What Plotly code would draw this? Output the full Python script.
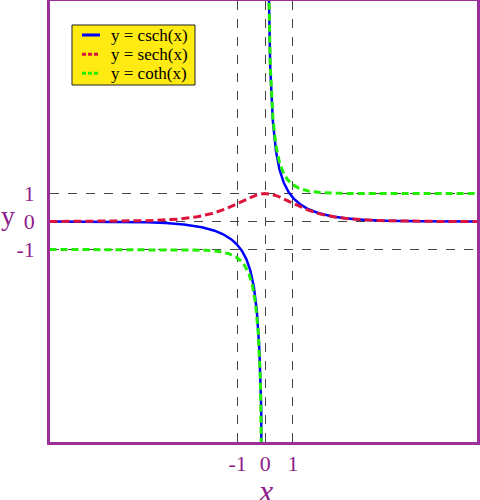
import numpy as np
import plotly.graph_objects as go

# x samples (two branches around the singularity at 0)
x_neg = np.linspace(-7.8, -0.02, 800)
x_pos = np.linspace(0.02, 7.7, 800)
x_all = np.linspace(-7.8, 7.7, 1200)

series_names = ["y = csch(x)", "y = sech(x)", "y = coth(x)"]
series_colors = ["#0000ff", "#dc143c", "#22ee00"]
series_dash = ["solid", "8px,4px", "7px,4px"]
legend_dash = ["solid", "4px,2px", "4px,2px"]
tick_vals = [-1, 0, 1]
tick_text = ["-1", "0", "1"]

def branches(f):
    xs = np.concatenate([x_neg, [np.nan], x_pos])
    ys = np.concatenate([f(x_neg), [np.nan], f(x_pos)])
    return xs, ys

csch_x, csch_y = branches(lambda x: 1 / np.sinh(x))
sech_x, sech_y = x_all, 1 / np.cosh(x_all)
coth_x, coth_y = branches(lambda x: 1 / np.tanh(x))

purple = "#8e1d8c"
fig = go.Figure()
fig.add_trace(go.Scatter(x=csch_x, y=csch_y, mode="lines", name=series_names[0],
                         line=dict(color=series_colors[0], width=2.5, dash=series_dash[0])))
fig.add_trace(go.Scatter(x=sech_x, y=sech_y, mode="lines", name=series_names[1],
                         line=dict(color=series_colors[1], width=3, dash=series_dash[1])))
fig.add_trace(go.Scatter(x=coth_x, y=coth_y, mode="lines", name=series_names[2],
                         line=dict(color=series_colors[2], width=3, dash=series_dash[2])))

axis_common = dict(
    tickvals=tick_vals, ticktext=tick_text, automargin=False,
    showgrid=True, gridcolor="#444444", gridwidth=1, griddash="dash",
    zeroline=False, showline=True, linecolor="#9b2f9b", linewidth=2.5, mirror=True,
    ticks="", tickfont=dict(family="Liberation Serif", size=22, color=purple),
)

# manual legend (compact rows like the reference)
shapes = [dict(type="rect", xref="paper", yref="paper", x0=0.0515, x1=0.3396, y0=0.8095, y1=0.9456,
               fillcolor="#ffea12", line=dict(color="#222222", width=1), layer="above")]
annotations = []
row_y = [0.9229, 0.8791, 0.836]
for name, color, dash, ry in zip(series_names, series_colors, legend_dash, row_y):
    shapes.append(dict(type="line", xref="paper", yref="paper", x0=0.0749, x1=0.1171, y0=ry, y1=ry,
                       line=dict(color=color, width=3, dash=dash), layer="above"))
    annotations.append(dict(text=name, xref="paper", yref="paper", x=0.1382, y=ry,
                            xanchor="left", yanchor="middle", showarrow=False,
                            font=dict(family="Liberation Serif", size=17, color="black")))

annotations += [
    dict(text="<i>x</i>", x=0, xref="x", y=0, yref="paper", yshift=-49,
         xanchor="center", yanchor="middle", showarrow=False,
         font=dict(family="Liberation Serif", size=32, color=purple)),
    dict(text="y", x=0, xref="paper", xshift=-42, y=0.2, yref="y",
         xanchor="center", yanchor="middle", showarrow=False,
         font=dict(family="Liberation Serif", size=28, color=purple)),
]

fig.update_layout(
    width=480, height=500,
    margin=dict(l=50, r=3, t=1, b=58, autoexpand=False),
    plot_bgcolor="white", paper_bgcolor="white",
    xaxis=dict(range=[-7.78, 7.65], ticklabelstandoff=0, **axis_common),
    yaxis=dict(range=[-7.9, 7.9], ticklabelstandoff=8, **axis_common),
    showlegend=False,
    shapes=shapes,
    annotations=annotations,
)
fig.write_html("out.html", config={"displayModeBar": False},
               post_script="document.body.style.margin='0';")
